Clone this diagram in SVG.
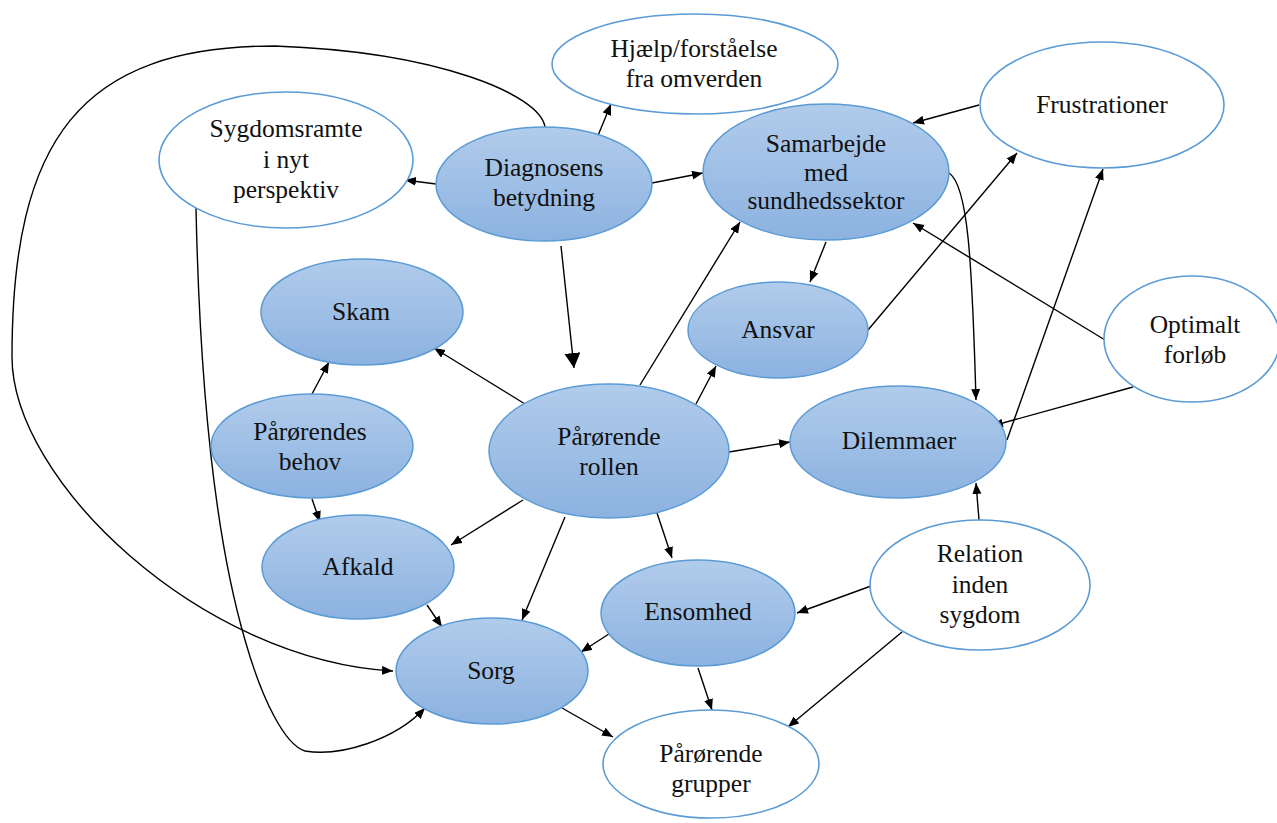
<svg xmlns="http://www.w3.org/2000/svg" width="1277" height="823" viewBox="0 0 1277 823">
<defs>
<linearGradient id="blue" x1="0" y1="0" x2="0" y2="1">
<stop offset="0" stop-color="#b1cceb"/>
<stop offset="1" stop-color="#8cb2e0"/>
</linearGradient>
<marker id="a" markerUnits="userSpaceOnUse" markerWidth="12" markerHeight="10" refX="11" refY="4.5" orient="auto">
<path d="M0,0 L11,4.5 L0,9 z" fill="#000"/>
</marker>
<marker id="big" markerUnits="userSpaceOnUse" markerWidth="16" markerHeight="18" refX="15" refY="8" orient="auto">
<path d="M0,0 L15,8 L0,16 z" fill="#000"/>
</marker>
</defs>
<style>
.f{fill:url(#blue);stroke:#5b9bd5;stroke-width:1.5}
.w{fill:#fff;stroke:#5b9bd5;stroke-width:1.6}
text{font-family:"Liberation Serif","Times New Roman",serif;font-size:25.5px;fill:#111;text-anchor:middle}
#edges path,#edges line{fill:none;stroke:#000;stroke-width:1.4}
</style>
<rect width="1277" height="823" fill="#fff"/>

<g id="edges">
<path d="M545,127 C540,95 440,52 275,46 C80,46 12,140 12,357 C12,480 200,660 393,671" marker-end="url(#a)"/>
<path d="M196,208 C199,350 210,520 245,640 C262,700 285,745 305,751 C340,757 395,740 425,708" marker-end="url(#a)"/>
<line x1="436" y1="184" x2="405" y2="180" marker-end="url(#a)"/>
<line x1="597" y1="138" x2="611" y2="104" marker-end="url(#a)"/>
<line x1="652" y1="183" x2="703" y2="173" marker-end="url(#a)"/>
<line x1="561" y1="246" x2="574" y2="368" marker-end="url(#big)"/>
<line x1="979" y1="105" x2="913" y2="123" marker-end="url(#a)"/>
<path d="M949,173 C968,185 972,260 976,400" marker-end="url(#a)"/>
<line x1="868" y1="330" x2="1017" y2="153" marker-end="url(#a)"/>
<line x1="1007" y1="440" x2="1103" y2="169" marker-end="url(#a)"/>
<line x1="1105" y1="340" x2="913" y2="223" marker-end="url(#a)"/>
<line x1="1133" y1="387" x2="992" y2="426" marker-end="url(#a)"/>
<line x1="826" y1="242" x2="810" y2="282" marker-end="url(#a)"/>
<line x1="640" y1="385" x2="740" y2="222" marker-end="url(#a)"/>
<line x1="696" y1="404" x2="716" y2="366" marker-end="url(#a)"/>
<line x1="525" y1="404" x2="434" y2="348" marker-end="url(#a)"/>
<line x1="312" y1="394" x2="329" y2="362" marker-end="url(#a)"/>
<line x1="312" y1="499" x2="320" y2="522" marker-end="url(#a)"/>
<line x1="523" y1="500" x2="451" y2="545" marker-end="url(#a)"/>
<line x1="565" y1="517" x2="522" y2="620" marker-end="url(#a)"/>
<line x1="427" y1="605" x2="442" y2="627" marker-end="url(#a)"/>
<line x1="612" y1="632" x2="581" y2="652" marker-end="url(#a)"/>
<line x1="562" y1="708" x2="613" y2="737" marker-end="url(#a)"/>
<line x1="657" y1="513" x2="672" y2="558" marker-end="url(#a)"/>
<line x1="729" y1="452" x2="790" y2="442" marker-end="url(#a)"/>
<line x1="979" y1="520" x2="976" y2="483" marker-end="url(#a)"/>
<line x1="871" y1="586" x2="797" y2="613" marker-end="url(#a)"/>
<line x1="902" y1="632" x2="788" y2="727" marker-end="url(#a)"/>
<line x1="698" y1="668" x2="712" y2="710" marker-end="url(#a)"/>
</g>

<g id="hjaelp"><ellipse class="w" cx="695" cy="64" rx="143" ry="50"/><text x="694" y="57">Hjælp/forståelse</text><text x="694" y="87">fra omverden</text></g>
<g id="sygdomsramte"><ellipse class="w" cx="286" cy="160" rx="127" ry="68"/><text x="286" y="137">Sygdomsramte</text><text x="286" y="168">i nyt</text><text x="286" y="198">perspektiv</text></g>
<g id="diagnosens"><ellipse class="f" cx="544" cy="184" rx="108" ry="57"/><text x="544" y="176">Diagnosens</text><text x="544" y="206">betydning</text></g>
<g id="samarbejde"><ellipse class="f" cx="826" cy="172" rx="123" ry="68"/><text x="826" y="152">Samarbejde</text><text x="826" y="181">med</text><text x="826" y="209">sundhedssektor</text></g>
<g id="frustrationer"><ellipse class="w" cx="1102" cy="105" rx="122" ry="63"/><text x="1102" y="113">Frustrationer</text></g>
<g id="skam"><ellipse class="f" cx="362" cy="312" rx="101" ry="53"/><text x="361" y="320">Skam</text></g>
<g id="ansvar"><ellipse class="f" cx="778" cy="330" rx="90" ry="48"/><text x="778" y="338">Ansvar</text></g>
<g id="optimalt"><ellipse class="w" cx="1192" cy="339" rx="88" ry="63"/><text x="1195" y="333">Optimalt</text><text x="1195" y="363">forløb</text></g>
<g id="behov"><ellipse class="f" cx="312" cy="446" rx="101" ry="52"/><text x="310" y="440">Pårørendes</text><text x="310" y="470">behov</text></g>
<g id="rollen"><ellipse class="f" cx="609" cy="451" rx="120" ry="67"/><text x="609" y="445">Pårørende</text><text x="609" y="475">rollen</text></g>
<g id="dilemmaer"><ellipse class="f" cx="898" cy="442" rx="108" ry="56"/><text x="899" y="449">Dilemmaer</text></g>
<g id="afkald"><ellipse class="f" cx="358" cy="567" rx="96" ry="52"/><text x="358" y="575">Afkald</text></g>
<g id="sorg"><ellipse class="f" cx="492" cy="671" rx="96" ry="53"/><text x="491" y="679">Sorg</text></g>
<g id="ensomhed"><ellipse class="f" cx="698" cy="613" rx="97" ry="53"/><text x="698" y="620">Ensomhed</text></g>
<g id="relation"><ellipse class="w" cx="980" cy="585" rx="110" ry="65"/><text x="980" y="562">Relation</text><text x="980" y="593">inden</text><text x="980" y="623">sygdom</text></g>
<g id="grupper"><ellipse class="w" cx="711" cy="764" rx="108" ry="54"/><text x="711" y="762">Pårørende</text><text x="711" y="792">grupper</text></g>
</svg>
